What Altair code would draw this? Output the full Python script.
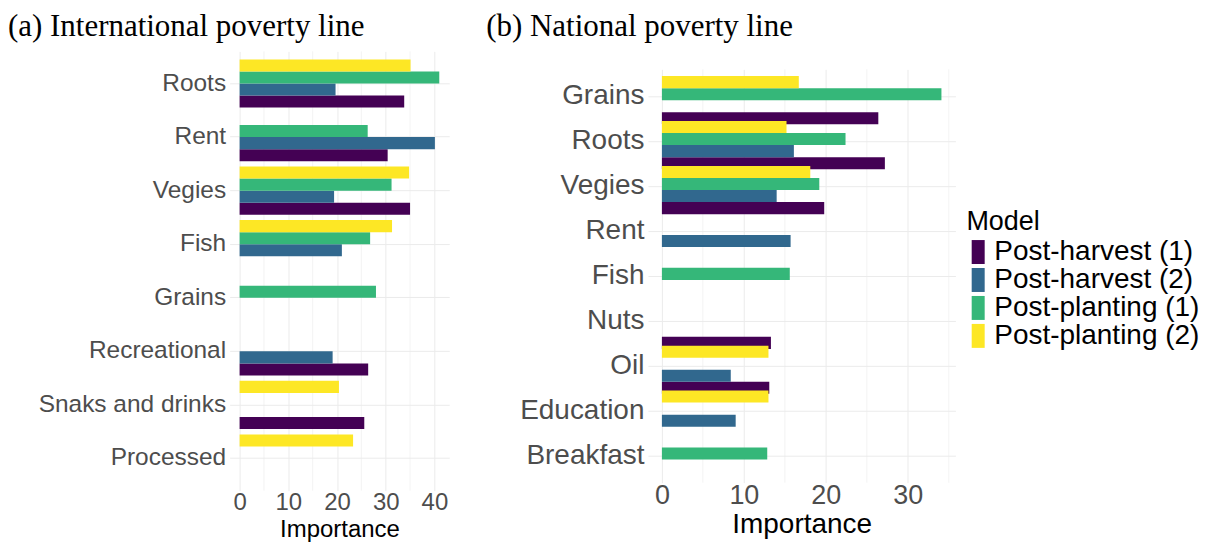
import altair as alt
import pandas as pd

models = ["Post-harvest (1)", "Post-harvest (2)", "Post-planting (1)", "Post-planting (2)"]
colors = ["#440154", "#31688E", "#35B779", "#FDE725"]

# Panel (a): International poverty line
cats_a = ["Roots", "Rent", "Vegies", "Fish", "Grains", "Recreational", "Snaks and drinks", "Processed"]
a_ph1 = [33.8, 30.4, 35.0, None, None, 26.4, 25.6, None]
a_ph2 = [19.7, 40.1, 19.4, 21.0, None, 19.1, None, None]
a_pp1 = [41.0, 26.3, 31.2, 26.8, 28.0, None, None, None]
a_pp2 = [35.1, None, 34.8, 31.3, None, None, 20.4, 23.3]

# Panel (b): National poverty line
cats_b = ["Grains", "Roots", "Vegies", "Rent", "Fish", "Nuts", "Oil", "Education", "Breakfast"]
b_ph1 = [26.4, 27.2, 19.8, None, None, 13.3, 13.1, None, None]
b_ph2 = [None, 16.1, 14.0, 15.7, None, None, 8.4, 9.0, None]
b_pp1 = [34.1, 22.4, 19.2, None, 15.6, None, None, None, 12.85]
b_pp2 = [16.7, 15.2, 18.1, None, None, None, 13.0, 13.0, None]

major_a = [0, 10, 20, 30, 40]
minor_a = [5, 15, 25, 35]
major_b = [0, 10, 20, 30]
minor_b = [5, 15, 25, 35]


def make_df(cats, series):
    rows = []
    for m, vals in zip(models, series):
        for c, v in zip(cats, vals):
            if v is not None:
                rows.append({"Category": c, "Model": m, "Importance": v})
    return pd.DataFrame(rows)


df_a = make_df(cats_a, [a_ph1, a_ph2, a_pp1, a_pp2])
df_b = make_df(cats_b, [b_ph1, b_ph2, b_pp1, b_pp2])

SANS = "Liberation Sans"
SERIF = "Liberation Serif"


def panel(df, cats, title, w, h, ylab_size, xlab_size, xtitle_size, title_dx,
          gap, major, minor, legend, xtitle_pad):
    vmax = float(df["Importance"].max())
    dom = [-0.05 * vmax, 1.05 * vmax]
    xscale = alt.Scale(domain=dom, nice=False, zero=False)
    xaxis = alt.Axis(values=major, title="Importance", labelFontSize=xlab_size,
                     titleFontSize=xtitle_size, labelPadding=0,
                     titlePadding=xtitle_pad, grid=True, format="d")
    grid_df = pd.DataFrame({"g": minor})
    rules = alt.Chart(grid_df).mark_rule(color="#EBEBEB", strokeWidth=0.6).encode(
        x=alt.X("g:Q", scale=xscale, axis=xaxis)
    )
    bars = alt.Chart(df).mark_bar(strokeWidth=0).encode(
        x=alt.X("Importance:Q", scale=xscale, axis=xaxis),
        y=alt.Y("Category:N", sort=cats,
                scale=alt.Scale(domain=cats, paddingInner=0.1, paddingOuter=0.15),
                axis=alt.Axis(title=None, labelFontSize=ylab_size, labelPadding=4,
                              labelLimit=400, grid=True, bandPosition=0.5)),
        yOffset=alt.YOffset("Model:N",
                            scale=alt.Scale(domain=models[::-1], paddingInner=0, paddingOuter=0)),
        color=alt.Color("Model:N", scale=alt.Scale(domain=models, range=colors), legend=legend),
    )
    layered = alt.layer(rules, bars).properties(width=w, height=h)
    # a thin header view that carries the panel title, so both titles share a baseline
    header = alt.Chart(pd.DataFrame({"t": [0]})).mark_point(opacity=0, size=1).encode(
        x=alt.value(0), y=alt.value(0)
    ).properties(
        width=w, height=1,
        title=alt.TitleParams(text=title, font=SERIF, fontSize=31, fontWeight="normal",
                              color="black", anchor="start", frame="group", dx=title_dx,
                              offset=0),
    )
    return alt.vconcat(header, layered, spacing=gap).resolve_scale(color="independent")


legend = alt.Legend(
    title="Model", orient="none", legendX=319, legendY=140,
    titleFont=SANS, titleFontSize=27, titleFontWeight="normal", titleColor="black",
    titlePadding=2, labelFont=SANS, labelFontSize=28, labelColor="black", labelOffset=0,
    labelLimit=400,
    symbolType="M-1.45,-2H0.72V2H-1.45Z", symbolSize=144, symbolStrokeWidth=0,
    symbolOpacity=1, rowPadding=-3,
)

chart_a = panel(df_a, cats_a, "(a) International poverty line", 220, 440, 24.5, 24, 24,
                -222, 6, major_a, minor_a, None, 3)
chart_b = panel(df_b, cats_b, "(b) National poverty line", 308, 414, 28, 27, 28,
                -162, 24, major_b, minor_b, legend, 2)

chart = alt.hconcat(chart_a, chart_b, spacing=37).resolve_scale(
    color="independent"
).properties(
    padding={"left": 0, "top": 2, "right": 0, "bottom": 0},
    background="white",
).configure_view(stroke=None).configure_axis(
    labelFont=SANS, titleFont=SANS, labelColor="#4D4D4D", titleColor="black",
    titleFontWeight="normal", domain=False, ticks=False, tickSize=0,
    gridColor="#EBEBEB", gridWidth=1,
)

chart.save("out.html", embed_options={"renderer": "svg", "actions": False})
